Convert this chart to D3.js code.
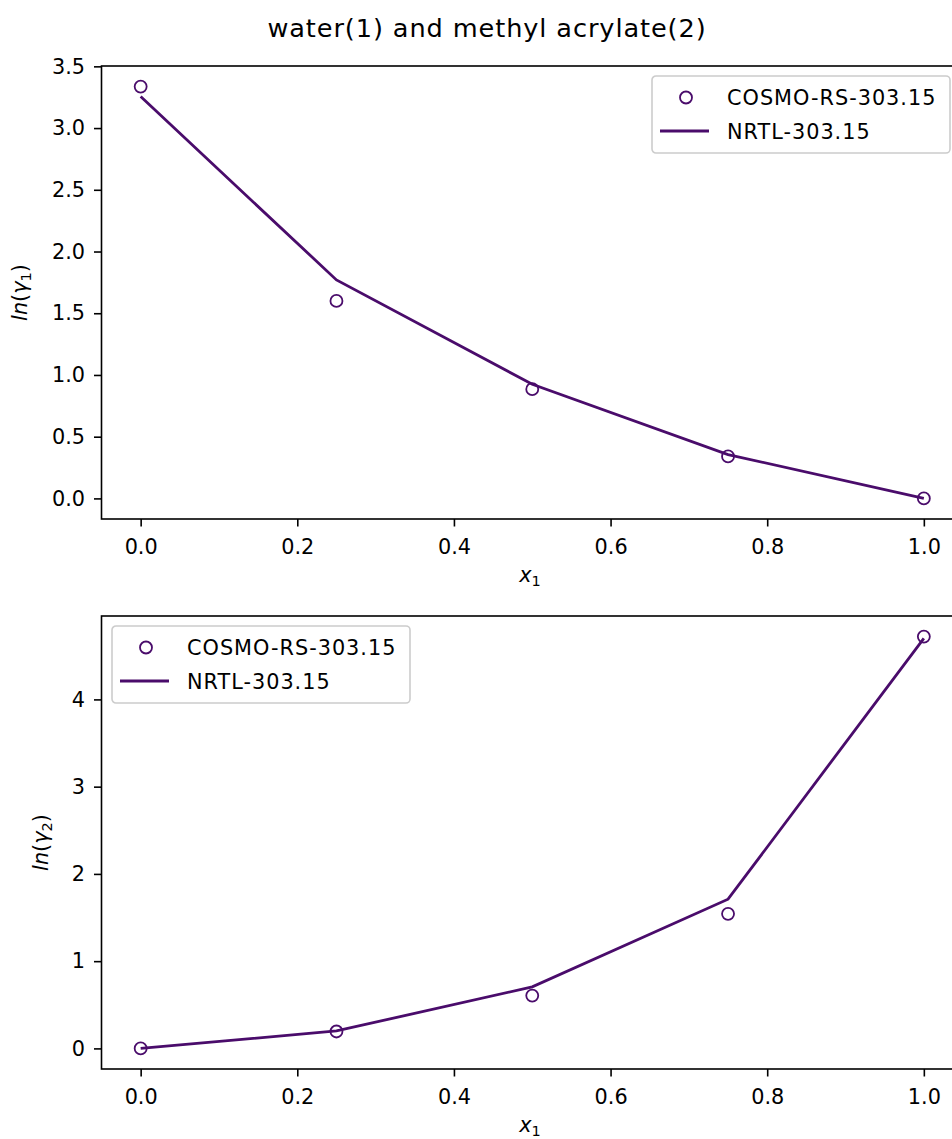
<!DOCTYPE html>
<head>
  <meta charset="utf-8">
  <title>water(1) and methyl acrylate(2)</title>
<style>
html, body {
  margin: 0;
  padding: 0;
  background: #fff;
}
body {
  font-family: 'DejaVu Sans', sans-serif;
}
.axis path, .axis line {
  stroke: #000;
  stroke-width: 1.6px;
}
.axis text {
  font-size: 20.8px;
  fill: #000;
  font-family: 'DejaVu Sans', sans-serif;
}
.spine {
  fill: none;
  stroke: #000;
  stroke-width: 1.6px;
}
</style>
</head>
<body>
<svg width="952" height="1139"></svg>
<script src="https://d3js.org/d3.v7.min.js"></script>
<script>
// data
var x1 = [0.0, 0.25, 0.5, 0.75, 1.0];
var cosmoLnG1 = [3.336, 1.60, 0.885, 0.34, 0.0];
var nrtlLnG1  = [3.255, 1.77, 0.925, 0.355, 0.0];
var cosmoLnG2 = [0.0, 0.194, 0.606, 1.543, 4.72];
var nrtlLnG2  = [0.0, 0.200, 0.705, 1.710, 4.70];
var xTicks  = [0.0, 0.2, 0.4, 0.6, 0.8, 1.0];
var y1Ticks = [0.0, 0.5, 1.0, 1.5, 2.0, 2.5, 3.0, 3.5];
var y2Ticks = [0, 1, 2, 3, 4];
var legendLabels = ["COSMO-RS-303.15", "NRTL-303.15"];

var color = "#4a0c6b";
var svg = d3.select("svg");

svg.append("text")
  .attr("x", 487).attr("y", 36.5)
  .attr("text-anchor", "middle")
  .style("font-size", "25.6px")
  .style("letter-spacing", "0.9px")
  .text("water(1) and methyl acrylate(2)");

// matplotlib-like 5% padding
function padded(vals) {
  var lo = d3.min(vals), hi = d3.max(vals), m = (hi - lo) * 0.05;
  return [lo - m, hi + m];
}

function panel(top, bottom, pts, line, yTicks, fmt, sub, legendX, ylabX) {
  var x = d3.scaleLinear().domain(padded(x1)).range([101.5, 963]);
  var y = d3.scaleLinear().domain(padded(pts.concat(line))).range([bottom, top]);
  var g = svg.append("g");

  g.append("g").attr("class", "axis")
    .attr("transform", "translate(0," + bottom + ")")
    .call(d3.axisBottom(x).tickValues(xTicks).tickFormat(d3.format(".1f")).tickSize(7.5).tickPadding(13).tickSizeOuter(0));
  g.append("g").attr("class", "axis")
    .attr("transform", "translate(101.5,0)")
    .call(d3.axisLeft(y).tickValues(yTicks).tickFormat(fmt).tickSize(7.5).tickPadding(9).tickSizeOuter(0));
  g.selectAll(".axis .domain").remove();
  g.append("rect").attr("class", "spine")
    .attr("x", 101.5).attr("y", top).attr("width", 963 - 101.5).attr("height", bottom - top);

  var data = x1.map(function(d, i) { return {x: d, p: pts[i], l: line[i]}; });
  g.append("path").datum(data)
    .attr("fill", "none").attr("stroke", color).attr("stroke-width", 2.8)
    .attr("d", d3.line().x(function(d) { return x(d.x); }).y(function(d) { return y(d.l); }));
  g.selectAll(".pt").data(data).enter().append("circle")
    .attr("class", "pt")
    .attr("cx", function(d) { return x(d.x); })
    .attr("cy", function(d) { return y(d.p); })
    .attr("r", 6)
    .attr("fill", "none").attr("stroke", color).attr("stroke-width", 1.8);

  // x label
  var xl = g.append("text").attr("x", 530).attr("y", bottom + 63)
    .attr("text-anchor", "middle").style("font-size", "20.8px");
  xl.append("tspan").style("font-style", "italic").text("x");
  xl.append("tspan").attr("dy", 4).style("font-size", "14.5px").text("1");

  // y label
  var yl = g.append("text")
    .attr("transform", "translate(" + ylabX + "," + (top + bottom) / 2 + ") rotate(-90)")
    .attr("text-anchor", "middle").style("font-size", "20.8px");
  yl.append("tspan").style("font-style", "italic").text("ln");
  yl.append("tspan").text("(");
  yl.append("tspan").style("font-style", "italic").text("\u03B3");
  yl.append("tspan").attr("dy", 4).style("font-size", "14.5px").text(sub);
  yl.append("tspan").attr("dy", -4).text(")");

  // legend
  var lt = top + 10;
  var lg = g.append("g").attr("transform", "translate(" + legendX + "," + lt + ")");
  lg.append("rect").attr("x", 0).attr("y", 0).attr("width", 298).attr("height", 77)
    .attr("rx", 4).attr("fill", "#fff").attr("fill-opacity", 0.8)
    .attr("stroke", "#ccc").attr("stroke-width", 1.6);
  lg.append("circle").attr("cx", 34).attr("cy", 21.5).attr("r", 6)
    .attr("fill", "none").attr("stroke", color).attr("stroke-width", 1.8);
  lg.append("line").attr("x1", 8).attr("x2", 57).attr("y1", 55).attr("y2", 55)
    .attr("stroke", color).attr("stroke-width", 2.8);
  lg.selectAll(".lt").data(legendLabels).enter().append("text")
    .attr("x", 75).attr("y", function(d, i) { return 28.5 + i * 34; })
    .style("font-size", "20.8px")
    .style("letter-spacing", "1px")
    .text(function(d) { return d; });
}

panel(66, 519, cosmoLnG1, nrtlLnG1, y1Ticks, d3.format(".1f"), "1", 652, 27);
panel(616, 1069, cosmoLnG2, nrtlLnG2, y2Ticks, d3.format("d"), "2", 112, 48);
</script>
</body>
